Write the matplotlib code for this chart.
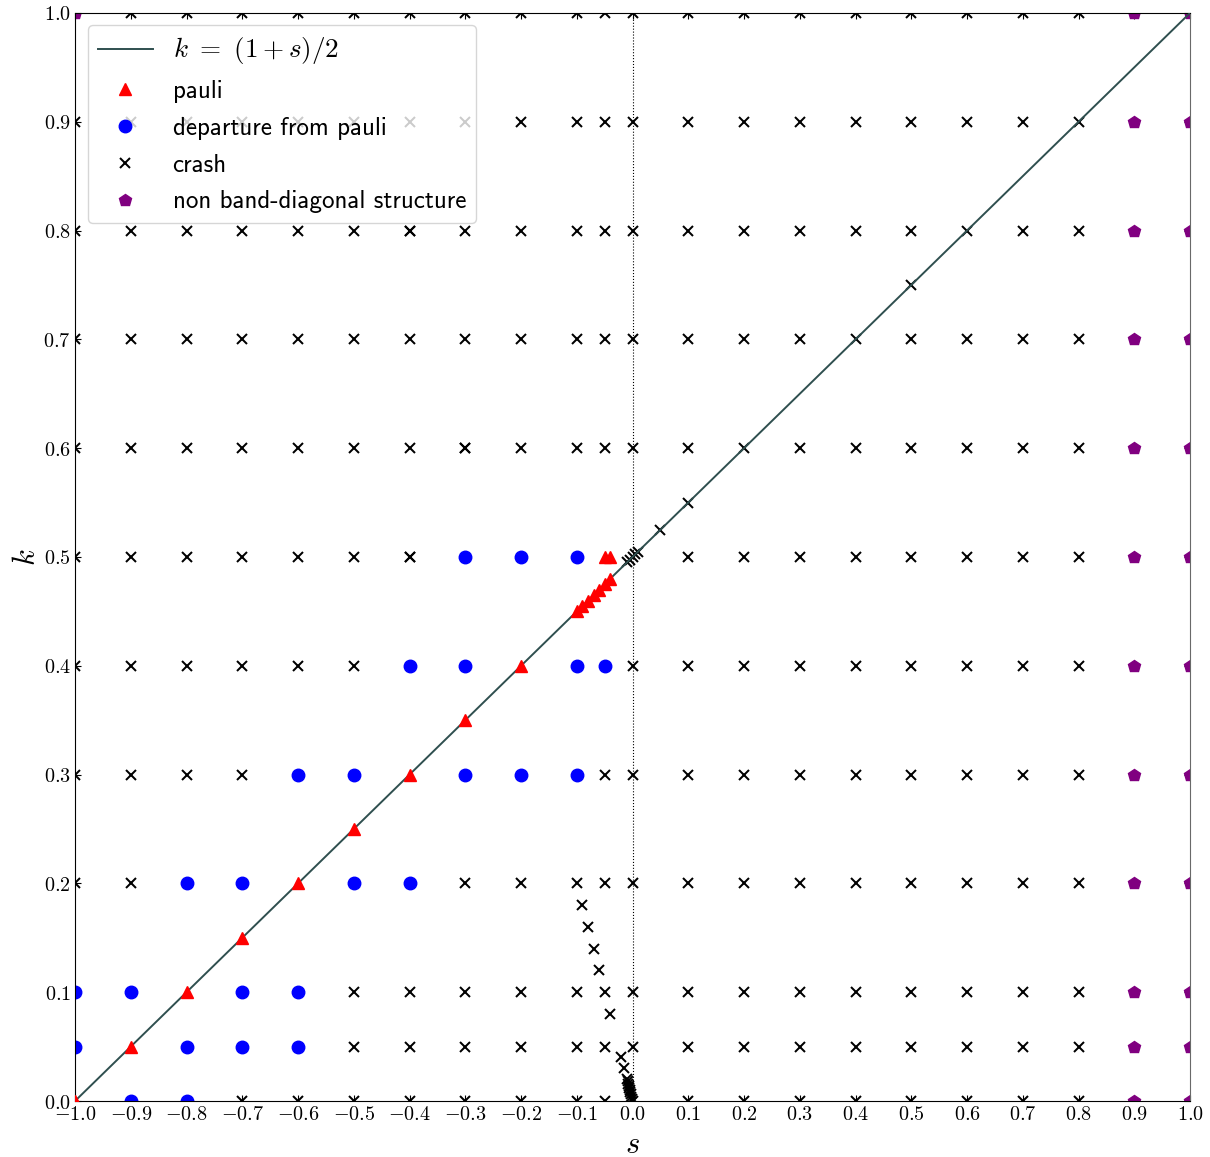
import numpy as np
import matplotlib
matplotlib.use('Agg')
import matplotlib.pyplot as plt
from matplotlib.ticker import FuncFormatter, MultipleLocator

plt.rcParams['mathtext.fontset'] = 'cm'

################################################# DATA

# grid columns (s) and rows (k)
sGrid = [-1.0, -0.9, -0.8, -0.7, -0.6, -0.5, -0.4, -0.3, -0.2, -0.1, -0.05,
         0.0, 0.1, 0.2, 0.3, 0.4, 0.5, 0.6, 0.7, 0.8, 0.9, 1.0]
kGrid = [1.0, 0.9, 0.8, 0.7, 0.6, 0.5, 0.4, 0.3, 0.2, 0.1, 0.05, 0.0]
# outcome per grid point: r=pauli, b=departure, x=crash, p=non band-diagonal
gridCodes = [
    'pxxxxxxxxxxxxxxxxxxxpp',   # k=1.0
    'xxxxxxxxxxxxxxxxxxxxpp',   # k=0.9
    'xxxxxxxxxxxxxxxxxxxxpp',   # k=0.8
    'xxxxxxxxxxxxxxxxxxxxpp',   # k=0.7
    'xxxxxxxxxxxxxxxxxxxxpp',   # k=0.6
    'xxxxxxxbbbrxxxxxxxxxpp',   # k=0.5
    'xxxxxxbbrbbxxxxxxxxxpp',   # k=0.4
    'xxxxbbrbbbxxxxxxxxxxpp',   # k=0.3
    'xxbbrbbxxxxxxxxxxxxxpp',   # k=0.2
    'bbrbbxxxxxxxxxxxxxxxpp',   # k=0.1
    'brbbbxxxxxxxxxxxxxxxpp',   # k=0.05
    'rbbxxxxxxxxxxxxxxxxxpp',   # k=0.0
]

# extra runs off the grid
paulS = [-0.7, -0.5, -0.3, -0.1, -0.09, -0.08, -0.07, -0.06, -0.05, -0.04, -0.04]
paulK = [0.15, 0.25, 0.35, 0.45, 0.455, 0.46, 0.465, 0.47, 0.475, 0.48, 0.5]

crashS = [0.05, 0.1, 0.5, -0.01, -0.005, 0.005, 0.01,
          -0.09, -0.08, -0.07, -0.06, -0.04, -0.02, -0.015,
          -0.01, -0.009, -0.008, -0.007, -0.006, -0.005, -0.004, -0.003, -0.002, -0.001,
          -0.4, -0.4, -0.3]
crashK = [0.525, 0.55, 0.75, 0.495, 0.4975, 0.5025, 0.505,
          0.18, 0.16, 0.14, 0.12, 0.08, 0.04, 0.03,
          0.02, 0.018, 0.016, 0.014, 0.012, 0.01, 0.008, 0.006, 0.004, 0.002,
          0.8, 0.5, 0.6]

################################################# SORT POINTS

pts = {'r': ([], []), 'b': ([], []), 'x': ([], []), 'p': ([], [])}
for k, row in zip(kGrid, gridCodes):
    for s, c in zip(sGrid, row):
        pts[c][0].append(s)
        pts[c][1].append(k)
pts['r'][0].extend(paulS); pts['r'][1].extend(paulK)
pts['x'][0].extend(crashS); pts['x'][1].extend(crashK)

################################################# PLOT

fig = plt.figure(figsize=(12.1, 11.57), dpi=100)
ax = fig.add_axes([0.062, 0.0484, 0.9215, 0.9404])

sLine = np.array([-1.0, 1.0])
ax.plot(sLine, (1 + sLine) / 2, color='darkslategray', lw=1.4, label=r'$k\ =\ (1+s)/2$', zorder=3)
ax.axvline(0.0, color='black', ls=':', lw=0.8, zorder=1)

ax.plot(pts['r'][0], pts['r'][1], '^', color='red', ms=8, mec='red', ls='none', label='pauli', zorder=4)
ax.plot(pts['b'][0], pts['b'][1], 'o', color='blue', ms=9, mec='blue', ls='none', label='departure from pauli', zorder=2)
ax.plot(pts['x'][0], pts['x'][1], 'x', color='black', ms=7.5, mew=1.45, ls='none', label='crash', zorder=2)
ax.plot(pts['p'][0], pts['p'][1], 'p', color='purple', ms=9, mec='purple', ls='none', label='non band-diagonal structure', zorder=2)

ax.set_xlim(-1, 1)
ax.set_ylim(0, 1)
ax.xaxis.set_major_locator(MultipleLocator(0.1))
ax.yaxis.set_major_locator(MultipleLocator(0.1))
fmt = FuncFormatter(lambda v, p: r'$%.1f$' % v)
ax.xaxis.set_major_formatter(fmt)
ax.yaxis.set_major_formatter(fmt)
ax.tick_params(direction='in', length=4, labelsize=14.5, pad=3, top=True, right=True)
ax.spines['right'].set_color('dimgray')

ax.set_xlabel(r'$s$', fontsize=22, labelpad=4)
ax.set_ylabel(r'$k$', fontsize=22, labelpad=2)

leg = ax.legend(loc='upper left', numpoints=1, handlelength=2.2, handletextpad=0.8,
                borderaxespad=0.5, prop={'family': 'cmss10', 'size': 18}, labelspacing=0.55)
leg.get_texts()[0].set_fontsize(19.5)

fig.savefig('out.png', dpi=100)
